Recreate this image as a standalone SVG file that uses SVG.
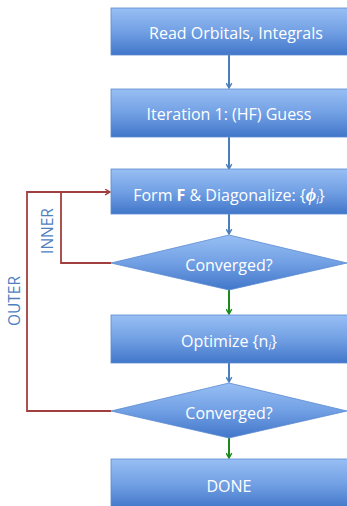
<svg xmlns="http://www.w3.org/2000/svg" width="347" height="506" viewBox="0 0 347 506">
<defs>
<linearGradient id="g" x1="0" y1="0" x2="0" y2="1">
<stop offset="0" stop-color="#98bff4"/>
<stop offset="0.5" stop-color="#72a0e4"/>
<stop offset="1" stop-color="#4176c9"/>
</linearGradient>
<marker id="ab" viewBox="0 0 10 10" refX="8" refY="5" markerWidth="7" markerHeight="7" orient="auto" markerUnits="userSpaceOnUse"><path d="M1,1 L8,5 L1,9" fill="none" stroke="#4a7ebb" stroke-width="2"/></marker>
<marker id="ag" viewBox="0 0 10 10" refX="8" refY="5" markerWidth="7" markerHeight="7" orient="auto" markerUnits="userSpaceOnUse"><path d="M1,1 L8,5 L1,9" fill="none" stroke="#1a8a1a" stroke-width="2"/></marker>
<marker id="ar" viewBox="0 0 10 10" refX="8" refY="5" markerWidth="7" markerHeight="7" orient="auto" markerUnits="userSpaceOnUse"><path d="M1,1 L8,5 L1,9" fill="none" stroke="#a0403e" stroke-width="2"/></marker>
</defs>
<style>
.box{fill:url(#g);stroke:#5a8ad0;stroke-width:0.8}
.t{font-family:"Open Sans","Liberation Sans",sans-serif;font-size:16px;fill:#ffffff;text-anchor:middle}
.lbl{font-family:"Open Sans","Liberation Sans",sans-serif;font-size:15.5px;fill:#4f7fbf;text-anchor:middle}
.cb{stroke:#4a7ebb;stroke-width:2;fill:none;marker-end:url(#ab)}
.cg{stroke:#1a8a1a;stroke-width:2;fill:none;marker-end:url(#ag)}
.cr{stroke:#a0403e;stroke-width:1.8;fill:none}
</style>
<g id="connectors">
<line class="cb" x1="229" y1="55" x2="229" y2="88"/>
<line class="cb" x1="229" y1="137" x2="229" y2="169"/>
<line class="cb" x1="229" y1="214" x2="229" y2="234"/>
<line class="cg" x1="229" y1="290" x2="229" y2="314"/>
<line class="cb" x1="229" y1="363" x2="229" y2="382"/>
<line class="cg" x1="229" y1="438" x2="229" y2="458"/>
<polyline class="cr" points="111,263 61,263 61,192"/>
<polyline class="cr" points="111,411 27,411 27,192 110,192" marker-end="url(#ar)"/>
<text class="lbl" transform="translate(53,231) rotate(-90)">INNER</text>
<text class="lbl" transform="translate(20,301) rotate(-90)">OUTER</text>
</g>
<g id="n1"><rect class="box" x="111" y="8" width="240" height="47"/><text class="t" x="236" y="39">Read Orbitals, Integrals</text></g>
<g id="n2"><rect class="box" x="111" y="89" width="240" height="48"/><text class="t" x="229" y="120">Iteration 1: (HF) Guess</text></g>
<g id="n3"><rect class="box" x="111" y="169" width="240" height="45"/><text class="t" x="229" y="201">Form <tspan font-weight="bold">F</tspan> &amp; Diagonalize: {<tspan font-style="italic" font-weight="bold" font-family="Liberation Serif,serif" font-size="18">ϕ</tspan><tspan font-style="italic" font-size="10" dy="3">i</tspan><tspan dy="-3">}</tspan></text></g>
<g id="n4"><polygon class="box" points="229,235 347,263 229,290 111,263"/><text class="t" x="229" y="271">Converged?</text></g>
<g id="n5"><rect class="box" x="111" y="315" width="240" height="48"/><text class="t" x="229" y="347">Optimize {n<tspan font-style="italic" font-size="10" dy="3">i</tspan><tspan dy="-3">}</tspan></text></g>
<g id="n6"><polygon class="box" points="229,383 347,411 229,438 111,411"/><text class="t" x="229" y="419">Converged?</text></g>
<g id="n7"><rect class="box" x="111" y="459" width="240" height="50"/><text class="t" x="229" y="492">DONE</text></g>
</svg>
